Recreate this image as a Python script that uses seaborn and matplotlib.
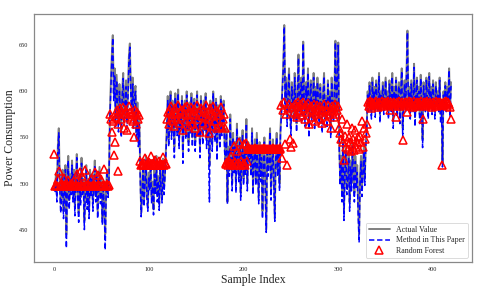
import matplotlib
matplotlib.use("Agg")
import matplotlib.pyplot as plt
import numpy as np
import pandas as pd
import seaborn as sns

# Values, sample by sample (0..419).
actual_value = [
    # 0-58
    500, 495, 510, 488, 540, 560, 505, 478, 492, 515, 470, 498, 520, 445, 505, 530, 482, 510, 495, 525,
    488, 515, 475, 500, 532, 492, 468, 510, 485, 528, 495, 505, 460, 498, 520, 480, 505, 470, 515, 492,
    510, 478, 500, 525, 488, 512, 470, 495, 518, 485, 505, 462, 500, 480, 445, 498, 515, 490, 510,
    # 59-90
    578, 612, 640, 661, 598, 625, 570, 618, 592, 565, 608, 585, 558, 602, 620, 572, 590, 612, 568, 598,
    638, 652, 605, 582, 615, 568, 600, 606, 555, 588, 548, 572,
    # 91-118
    510, 468, 495, 520, 482, 505, 530, 490, 476, 512, 498, 525, 485, 502, 472, 515, 495, 530, 488, 508,
    478, 520, 500, 485, 527, 495, 510, 535,
    # 119-180
    560, 595, 548, 582, 600, 555, 590, 570, 540, 598, 575, 560, 602, 548, 585, 565, 595, 535, 578, 590,
    555, 600, 570, 545, 588, 562, 598, 550, 580, 592, 545, 575, 600, 560, 585, 540, 595, 570, 552, 590,
    565, 598, 548, 580, 560, 520, 590, 575, 545, 600, 568, 555, 592, 538, 585, 570, 548, 595, 560, 578,
    590, 545,
    # 181-206
    525, 560, 480, 540, 515, 575, 530, 500, 555, 520, 545, 498, 565, 528, 510, 550, 490, 535, 558, 505,
    540, 518, 570, 500, 545, 530,
    # 207-239
    540, 515, 560, 495, 530, 548, 505, 555, 520, 485, 545, 510, 535, 470, 525, 550, 498, 450, 540, 515,
    530, 560, 490, 525, 548, 505, 462, 535, 555, 515, 540, 500, 560,
    # 240-300
    580, 605, 630, 672, 590, 615, 570, 600, 625, 585, 560, 610, 595, 575, 620, 590, 565, 605, 640, 580,
    600, 615, 575, 654, 595, 570, 610, 585, 625, 560, 598, 612, 575, 590, 620, 568, 605, 585, 615, 595,
    572, 608, 588, 565, 600, 620, 578, 595, 570, 612, 585, 600, 560, 615, 590, 575, 605, 655, 585, 610,
    653,
    # 301-330
    545, 505, 530, 490, 555, 470, 520, 540, 495, 510, 535, 480, 525, 500, 545, 515, 490, 530, 505, 520,
    475, 445, 510, 530, 495, 520, 540, 505, 545, 560,
    # 331-419
    600, 585, 610, 595, 578, 615, 590, 605, 580, 612, 595, 585, 620, 575, 600, 590, 610, 582, 598, 615,
    588, 600, 578, 612, 595, 585, 620, 570, 605, 592, 615, 580, 598, 610, 575, 602, 625, 560, 595, 612,
    585, 620, 666, 590, 605, 578, 612, 598, 585, 630, 572, 600, 615, 588, 605, 575, 618, 592, 548, 610,
    595, 585, 615, 600, 578, 620, 590, 605, 582, 612, 595, 578, 610, 590, 600, 585, 615, 575, 590, 522,
    600, 590, 610, 585, 605, 595, 625, 580, 610,
]

method_value = [
    498, 490, 505, 480, 535, 555, 498, 468, 485, 510, 462, 490, 515, 430, 498, 525, 472, 505, 488, 520,
    480, 510, 465, 495, 528, 485, 458, 505, 476, 522, 488, 500, 450, 490, 515, 472, 498, 462, 510, 485,
    505, 470, 495, 520, 480, 508, 462, 488, 512, 478, 500, 455, 494, 472, 428, 490, 510, 485, 505,
    572, 605, 636, 658, 590, 618, 562, 612, 585, 556, 600, 578, 550, 596, 614, 565, 583, 605, 560, 592,
    632, 648, 598, 575, 608, 560, 594, 600, 546, 580, 540, 565,
    505, 464, 488, 515, 475, 500, 526, 483, 470, 506, 492, 520, 478, 497, 466, 510, 488, 525, 480, 503,
    471, 515, 494, 479, 522, 488, 505, 530,
    555, 590, 540, 578, 596, 548, 585, 562, 528, 594, 570, 552, 598, 538, 580, 558, 590, 522, 572, 586,
    548, 596, 564, 535, 584, 555, 594, 540, 575, 588, 535, 570, 596, 552, 580, 528, 590, 565, 542, 586,
    558, 594, 538, 575, 552, 480, 586, 570, 535, 598, 562, 545, 588, 525, 580, 564, 538, 592, 552, 574,
    586, 535,
    520, 555, 478, 535, 508, 570, 524, 492, 550, 512, 540, 490, 560, 520, 502, 545, 482, 528, 552, 498,
    534, 510, 565, 492, 540, 524,
    535, 508, 555, 488, 524, 542, 498, 550, 512, 478, 540, 502, 528, 462, 518, 545, 490, 447, 534, 508,
    524, 556, 482, 518, 542, 498, 459, 528, 550, 508, 535, 492, 555,
    575, 600, 626, 670, 584, 610, 562, 595, 620, 578, 552, 605, 590, 568, 615, 584, 556, 600, 636, 572,
    595, 610, 568, 652, 590, 562, 605, 578, 620, 550, 592, 608, 568, 585, 615, 558, 600, 578, 610, 590,
    565, 604, 582, 555, 595, 616, 570, 590, 560, 608, 578, 596, 550, 610, 584, 566, 600, 653, 578, 606,
    650,
    538, 498, 522, 480, 550, 460, 512, 535, 488, 502, 528, 470, 518, 492, 540, 508, 480, 524, 496, 512,
    465, 436, 502, 524, 486, 512, 535, 498, 540, 556,
    596, 578, 606, 588, 570, 610, 584, 600, 572, 608, 590, 578, 616, 566, 596, 584, 606, 575, 592, 612,
    582, 596, 570, 608, 590, 578, 616, 560, 600, 586, 612, 572, 592, 606, 565, 598, 622, 550, 588, 608,
    578, 616, 664, 584, 600, 570, 608, 592, 578, 626, 562, 596, 612, 580, 600, 565, 614, 586, 539, 606,
    590, 578, 612, 595, 570, 616, 584, 600, 575, 608, 590, 570, 606, 584, 596, 578, 612, 565, 584, 518,
    596, 584, 606, 578, 600, 590, 623, 572, 606,
]

random_forest = [
    532, 497, 498, 497, 505, 514, 497, 498, 500, 497, 506, 497, 498, 497, 497, 504, 497, 498, 497, 501,
    497, 503, 497, 498, 510, 497, 497, 512, 498, 497, 508, 497, 497, 515, 498, 497, 500, 497, 497, 505,
    497, 498, 497, 513, 497, 497, 509, 498, 497, 497, 505, 497, 498, 516, 497, 497, 500, 497, 498,
    575, 570, 556, 568, 531, 545, 572, 580, 565, 514, 575, 582, 570, 578, 583, 560, 576, 580, 558, 572,
    584, 578, 570, 575, 568, 550, 580, 576, 565, 578, 570, 574,
    525, 520, 521, 520, 522, 528, 520, 521, 520, 523, 520, 530, 521, 520, 522, 520, 526, 520, 521, 520,
    524, 520, 521, 520, 529, 520, 522, 521,
    570, 578, 565, 580, 584, 572, 576, 568, 562, 582, 575, 570, 585, 566, 578, 572, 580, 558, 575, 583,
    568, 584, 574, 562, 579, 570, 583, 565, 576, 581, 560, 574, 585, 570, 578, 556, 582, 573, 566, 580,
    572, 585, 564, 578, 570, 555, 582, 575, 562, 584, 573, 568, 580, 560, 578, 574, 562, 583, 561, 570,
    575, 560,
    522, 521, 523, 520, 525, 522, 530, 521, 520, 541, 523, 520, 535, 522, 545, 520, 524, 538, 521, 543,
    522, 520, 544, 525, 540, 538,
    538, 537, 538, 537, 537, 539, 537, 538, 537, 537, 538, 537, 537, 538, 537, 539, 537, 537, 538, 537,
    537, 538, 537, 537, 539, 537, 538, 537, 537, 538, 537, 539, 538,
    585, 528, 580, 588, 543, 575, 520, 582, 586, 548, 540, 583, 544, 578, 586, 575, 572, 584, 589, 580,
    578, 586, 574, 588, 582, 570, 585, 578, 587, 565, 580, 584, 572, 578, 586, 568, 582, 576, 585, 580,
    570, 584, 578, 566, 580, 586, 573, 579, 568, 585, 576, 580, 560, 584, 578, 572, 582, 586, 575, 580,
    584,
    560, 555, 548, 570, 545, 526, 552, 540, 565, 538, 550, 545, 535, 560, 542, 548, 536, 558, 540, 545,
    550, 537, 552, 545, 568, 540, 560, 548, 555, 565,
    588, 584, 590, 586, 582, 589, 587, 585, 588, 590, 586, 583, 589, 587, 585, 590, 584, 588, 586, 589,
    587, 585, 590, 586, 580, 588, 587, 584, 589, 586, 572, 588, 585, 590, 584, 587, 589, 547, 586, 588,
    585, 589, 578, 587, 590, 584, 588, 586, 583, 590, 585, 587, 588, 584, 589, 586, 590, 585, 570, 588,
    586, 589, 584, 590, 587, 585, 588, 586, 583, 589, 587, 585, 590, 584, 588, 586, 589, 585, 520, 587,
    585, 589, 586, 590, 584, 588, 586, 583, 570,
]

x_ticks = [0, 100, 200, 300, 400]
y_ticks = [450, 500, 550, 600, 650]

df = pd.DataFrame({
    "idx": np.arange(len(actual_value)),
    "actual": actual_value,
    "method": method_value,
    "rf": random_forest,
})

sns.set_theme(style="white")
plt.rcParams["font.family"] = ["Liberation Serif", "DejaVu Serif"]

fig, ax = plt.subplots(figsize=(4.81, 2.91), dpi=100)
fig.subplots_adjust(left=0.071, right=0.981, top=0.952, bottom=0.100)

sns.lineplot(data=df, x="idx", y="actual", ax=ax, color="#808080",
             linewidth=1.4, label="Actual Value")
sns.lineplot(data=df, x="idx", y="method", ax=ax, color="#0000ff",
             linewidth=1.1, linestyle=(0, (3.5, 1.8)), label="Method in This Paper")
sns.lineplot(data=df, x="idx", y="rf", ax=ax, linestyle="", marker="^",
             markersize=5.5, markerfacecolor="none", markeredgecolor="#ff0000",
             markeredgewidth=1.1, color="#ff0000", label="Random Forest")

ax.set_xticks(x_ticks)
ax.set_yticks(y_ticks)
ax.set_xlim(-21, 441)
ax.set_ylim(415, 684)
ax.tick_params(axis="both", labelsize=4.5, length=2, width=0.5,
               color="#555555", labelcolor="#222222", pad=2)
for sp in ax.spines.values():
    sp.set_color("#888888")
    sp.set_linewidth(0.9)

ax.set_xlabel("Sample Index", fontsize=8.5, labelpad=1)
ax.set_ylabel("Power Consumption", fontsize=8.5, labelpad=2)

leg = ax.legend(loc="lower right", fontsize=5.7, frameon=True,
                handlelength=2.6, borderpad=0.4, labelspacing=0.3)
leg.get_frame().set_edgecolor("#cccccc")
leg.get_frame().set_linewidth(0.6)

fig.savefig("out.png", dpi=100)
